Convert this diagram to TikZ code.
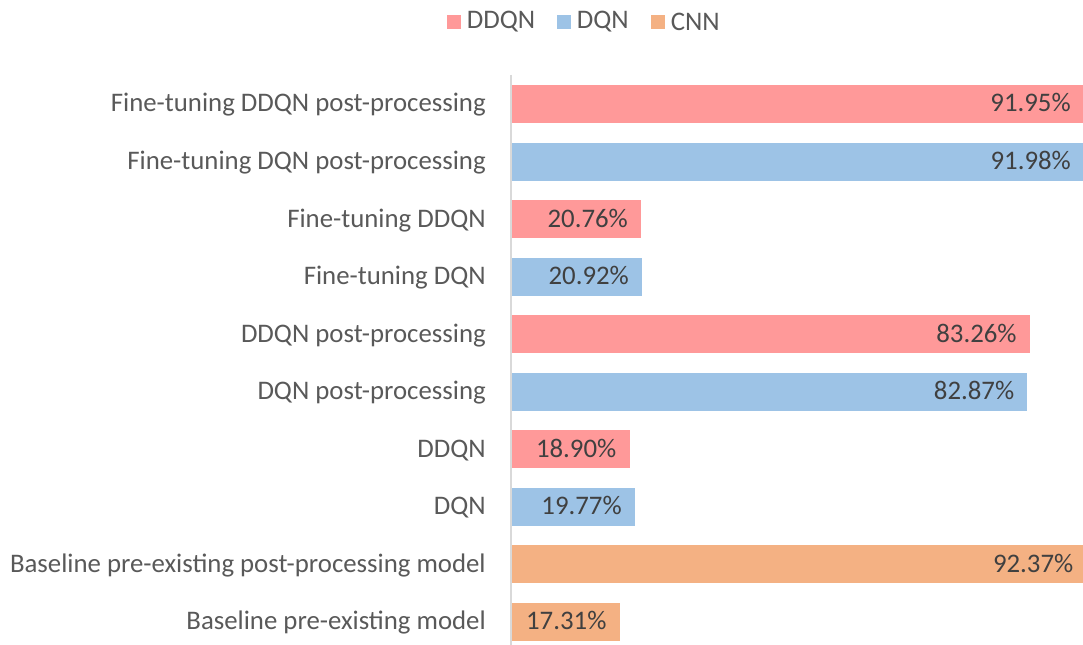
\documentclass[tikz,border=0pt]{standalone}
\usepackage{fontspec}
\setmainfont{Carlito}
\usepackage{tikz}
\usetikzlibrary{positioning}
\definecolor{ddqnpink}{RGB}{255,153,153}
\definecolor{dqnblue}{RGB}{157,195,230}
\definecolor{cnnorange}{RGB}{244,177,131}
\definecolor{labelgray}{RGB}{89,89,89}
\definecolor{valuegray}{RGB}{64,64,64}
\definecolor{axisgray}{RGB}{217,217,217}

\begin{document}
\begin{tikzpicture}[
  x=0.75pt, y=-0.75pt,
  chartfont/.style={font=\fontsize{20.1}{24}\selectfont},
  lbl/.style={chartfont,anchor=base east,inner sep=0pt,text=labelgray},
  val/.style={chartfont,anchor=base east,inner sep=0pt,text=valuegray},
  legsq/.style={minimum size=10.5pt,inner sep=0pt},
  legtxt/.style={chartfont,inner sep=0pt,text=labelgray}
]
\useasboundingbox (0,0) rectangle (1083,645);

% legend
\node[legsq,fill=ddqnpink] (kddqn) at (454,22) {};
\node[legtxt,right=4pt of kddqn] (tddqn) {DDQN};
\node[legsq,fill=dqnblue] (kdqn) at (564,22) {};
\node[legtxt,right=4pt of kdqn] (tdqn) {DQN};
\node[legsq,fill=cnnorange] (kcnn) at (658,22) {};
\node[legtxt,right=4pt of kcnn] (tcnn) {CNN};

% bars, top to bottom
\foreach \i/\name/\v/\col in {
  0/Fine-tuning DDQN post-processing/91.95/ddqnpink,
  1/Fine-tuning DQN post-processing/91.98/dqnblue,
  2/Fine-tuning DDQN/20.76/ddqnpink,
  3/Fine-tuning DQN/20.92/dqnblue,
  4/DDQN post-processing/83.26/ddqnpink,
  5/DQN post-processing/82.87/dqnblue,
  6/DDQN/18.90/ddqnpink,
  7/DQN/19.77/dqnblue,
  8/Baseline pre-existing post-processing model/92.37/cnnorange,
  9/Baseline pre-existing model/17.31/cnnorange}{
  \pgfmathsetmacro{\y}{104+57.55*\i}
  \pgfmathsetmacro{\xe}{512+6.22*\v}
  \fill[\col] (512,\y-19) rectangle (\xe,\y+19);
  \node[val] (v\i) at (\xe-13,\y+8) {\v\%};
  \node[lbl] (l\i) at (486,\y+8) {\name};
}

% category axis
\draw[axisgray,line width=1.5pt] (511,75) -- (511,645);
\end{tikzpicture}
\end{document}
